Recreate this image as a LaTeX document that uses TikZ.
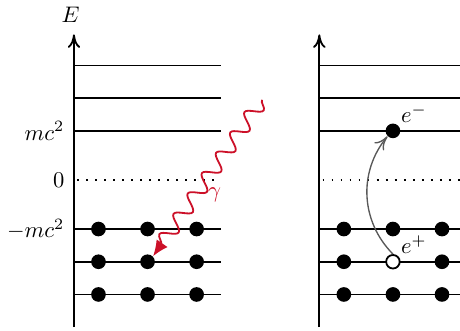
\documentclass[tikz,border=0pt]{standalone}
\usepackage{amsmath}
\usetikzlibrary{arrows.meta,decorations.pathmorphing}
\definecolor{photonred}{RGB}{204,16,40}

\begin{document}
\begin{tikzpicture}[x=0.51cm,y=0.51cm,
  level/.style={thick},
  zero/.style={thick,dash pattern=on 0.8pt off 3.2pt},
  axisarrow/.style={thick,-{To[length=6pt,width=5.5pt]}},
  filled/.style={circle,fill=black,inner sep=0pt,minimum size=6.5pt},
  hole/.style={circle,draw=black,fill=white,thick,inner sep=0pt,minimum size=6pt},
  photon/.style={photonred,thick,decorate,
    decoration={snake,amplitude=3.3pt,segment length=11pt,post length=3pt}}]
\useasboundingbox (-2.26,-4.59) rectangle (11.8,5.5);

% Dirac sea before
\draw[axisarrow] (0,-4.5) -- (0,4.45);
\node (elab) at (-0.1,5.05) {$E$};
\foreach \y in {3.5,2.5,1.5,-1.5,-2.5,-3.5}
  \draw[level] (0,\y) -- (4.5,\y);
\draw[zero] (0.1,0) -- (4.5,0);
\node[anchor=east] (lmc) at (-0.05,1.5) {$mc^2$};
\node[anchor=east] (lzero) at (-0.05,0) {$0$};
\node[anchor=east] (lmmc) at (-0.05,-1.5) {$-mc^2$};
\foreach \i/\x in {1/0.75,2/2.25,3/3.75}
  \foreach \j/\y in {1/-1.5,2/-2.5,3/-3.5}
    \node[filled] (l\i\j) at (\x,\y) {};

% incoming photon
\coordinate (src) at (5.75,2.45);
\draw[photon,-{Latex[length=7pt,width=6pt]}] (src) -- (l22.north east);
\node[photonred] (gam) at (4.3,-0.46) {$\gamma$};

% after pair creation
\begin{scope}[xshift=3.825cm]
\draw[axisarrow] (0,-4.5) -- (0,4.45);
\foreach \y in {3.5,2.5,1.5,-1.5,-2.5,-3.5}
  \draw[level] (0,\y) -- (4.5,\y);
\draw[zero] (0.1,0) -- (4.5,0);
\foreach \i/\x in {1/0.75,2/2.25,3/3.75}
  \foreach \j/\y in {1/-1.5,3/-3.5}
    \node[filled] (r\i\j) at (\x,\y) {};
\node[filled] (r12) at (0.75,-2.5) {};
\node[filled] (r32) at (3.75,-2.5) {};
\node[hole] (pos) at (2.25,-2.5) {};
\node[filled] (ele) at (2.25,1.5) {};
\node[anchor=south west,inner sep=1pt] (elel) at (ele.north east) {$e^-$};
\node[anchor=south west,inner sep=1pt] (posl) at (pos.north east) {$e^+$};
\draw[black!65,semithick,-{To[length=6pt,width=5.5pt]}] (pos.north) to[bend left=42] (ele.south west);
\end{scope}
\end{tikzpicture}
\end{document}
